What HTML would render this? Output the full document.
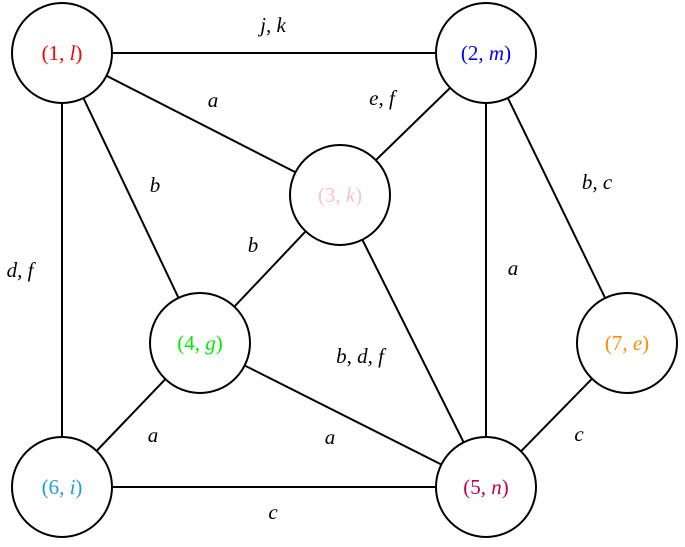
<!DOCTYPE html>
<html><head><meta charset="utf-8"><style>
html,body{margin:0;padding:0;background:#fff;}
svg{display:block;}
text{font-family:"Liberation Serif",serif;font-size:21px;text-anchor:middle;dominant-baseline:central;}
.i{font-style:italic;}
</style></head><body>
<svg width="685" height="547" viewBox="0 0 685 547">
<g stroke="#000" stroke-width="2" fill="none">
<line x1="62" y1="53" x2="486" y2="53"/>
<line x1="62" y1="53" x2="340" y2="195"/>
<line x1="62" y1="53" x2="200" y2="343"/>
<line x1="62" y1="53" x2="62" y2="487"/>
<line x1="486" y1="53" x2="340" y2="195"/>
<line x1="486" y1="53" x2="486" y2="487"/>
<line x1="486" y1="53" x2="627" y2="343"/>
<line x1="340" y1="195" x2="200" y2="343"/>
<line x1="340" y1="195" x2="486" y2="487"/>
<line x1="200" y1="343" x2="62" y2="487"/>
<line x1="200" y1="343" x2="486" y2="487"/>
<line x1="62" y1="487" x2="486" y2="487"/>
<line x1="627" y1="343" x2="486" y2="487"/>
</g>
<g stroke="#000" stroke-width="2" fill="#fff">
<circle cx="62" cy="53" r="50"/>
<circle cx="486" cy="53" r="50"/>
<circle cx="340" cy="195" r="50"/>
<circle cx="200" cy="343" r="50"/>
<circle cx="486" cy="487" r="50"/>
<circle cx="62" cy="487" r="50"/>
<circle cx="627" cy="343" r="50"/>
</g>
<text x="62" y="53" fill="#ff0000">(1, <tspan class="i">l</tspan>)</text>
<text x="486" y="53" fill="#0000ff">(2, <tspan class="i">m</tspan>)</text>
<text x="340" y="195" fill="#ffc0cb">(3, <tspan class="i">k</tspan>)</text>
<text x="200" y="343" fill="#00ee00">(4, <tspan class="i">g</tspan>)</text>
<text x="486" y="487" fill="#c0004a">(5, <tspan class="i">n</tspan>)</text>
<text x="62" y="487" fill="#1ea0d0">(6, <tspan class="i">i</tspan>)</text>
<text x="627" y="343" fill="#ff8c00">(7, <tspan class="i">e</tspan>)</text>
<g class="i">
<text x="273" y="25"><tspan class="i">j</tspan>, <tspan class="i">k</tspan></text>
<text x="213" y="100" class="i">a</text>
<text x="382" y="98"><tspan class="i">e</tspan>, <tspan class="i">f</tspan></text>
<text x="155" y="185" class="i">b</text>
<text x="597" y="182"><tspan class="i">b</tspan>, <tspan class="i">c</tspan></text>
<text x="253" y="245" class="i">b</text>
<text x="20" y="270"><tspan class="i">d</tspan>, <tspan class="i">f</tspan></text>
<text x="513" y="268" class="i">a</text>
<text x="360" y="356"><tspan class="i">b</tspan>, <tspan class="i">d</tspan>, <tspan class="i">f</tspan></text>
<text x="153" y="435" class="i">a</text>
<text x="330" y="437" class="i">a</text>
<text x="579" y="434" class="i">c</text>
<text x="273" y="512" class="i">c</text>
</g>
</svg>
</body></html>
